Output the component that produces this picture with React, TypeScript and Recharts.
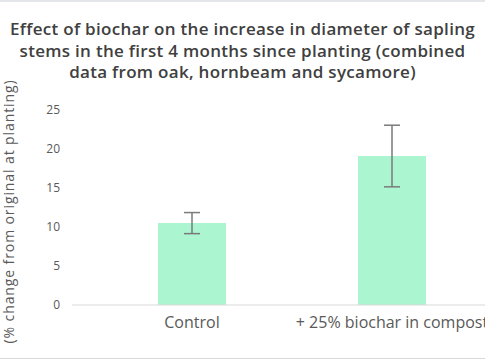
import React from "react";
import { BarChart, Bar, XAxis, YAxis, ErrorBar, Label } from "recharts";

const categories = ["Control", "+ 25% biochar in compost"];
const meanChange = [10.5, 19.1];
const errorHalf = [1.35, 3.95];
const yTicks = [0, 5, 10, 15, 20, 25];

const titleLines = [
  "Effect of biochar on the increase in diameter of sapling",
  "stems in the first 4 months since planting (combined",
  "data from oak, hornbeam and sycamore)",
];
const yLabel = "(% change from original at planting)";

const data = categories.map((c, i) => ({ name: c, value: meanChange[i], err: errorHalf[i] }));

const FONT = "'Open Sans', 'Noto Sans', sans-serif";

export default function App() {
  return (
    <div
      style={{
        position: "fixed",
        left: 0,
        top: 0,
        width: 485,
        height: 360,
        overflow: "hidden",
        background: "#ffffff",
        fontFamily: FONT,
      }}
    >
      <div style={{ position: "absolute", left: 0, top: 0, width: 485, height: 2, background: "#e4e6e9" }} />
      <div style={{ position: "absolute", left: 0, top: 358, width: 485, height: 1, background: "#d9d9d9" }} />
      <div
        style={{
          position: "absolute",
          left: 0,
          top: 18,
          width: 485,
          textAlign: "center",
          fontWeight: 600,
          fontSize: 17,
          letterSpacing: 0.3,
          lineHeight: "21.5px",
          color: "#404040",
          whiteSpace: "nowrap",
        }}
      >
        {titleLines.map((t, i) => (
          <div key={i}>{t}</div>
        ))}
      </div>
      <div style={{ position: "absolute", left: 0, top: 0 }}>
        <BarChart
          width={500}
          height={360}
          data={data}
          margin={{ top: 110, right: 8, bottom: 25, left: 12 }}
        >
          <XAxis
            dataKey="name"
            interval={0}
            tickLine={false}
            axisLine={{ stroke: "#d9d9d9" }}
            padding={{ left: 20, right: 0 }}
            height={30}
            tickMargin={6}
            tick={{ fill: "#595959", fontSize: 16, fontFamily: FONT }}
          />
          <YAxis
            domain={[0, 25]}
            ticks={yTicks}
            width={60}
            tickLine={false}
            axisLine={false}
            tickMargin={6}
            tick={{ fill: "#595959", fontSize: 12, fontFamily: FONT }}
          >
            <Label
              content={(props: any) => {
                const vb = props.viewBox || {};
                const cy = (vb.y || 0) + (vb.height || 0) / 2 + 4;
                const cx = 8;
                return (
                  <text
                    x={cx}
                    y={cy}
                    transform={`rotate(-90 ${cx} ${cy})`}
                    textAnchor="middle"
                    dominantBaseline="central"
                    fill="#595959"
                    fontSize={14}
                    letterSpacing={0.9}
                    fontFamily={FONT}
                  >
                    {yLabel}
                  </text>
                );
              }}
            />
          </YAxis>
          <Bar dataKey="value" fill="#abf6d1" barSize={68} isAnimationActive={false}>
            <ErrorBar dataKey="err" width={8} stroke="#7a7a7a" strokeWidth={1.5} isAnimationActive={false} />
          </Bar>
        </BarChart>
      </div>
    </div>
  );
}
